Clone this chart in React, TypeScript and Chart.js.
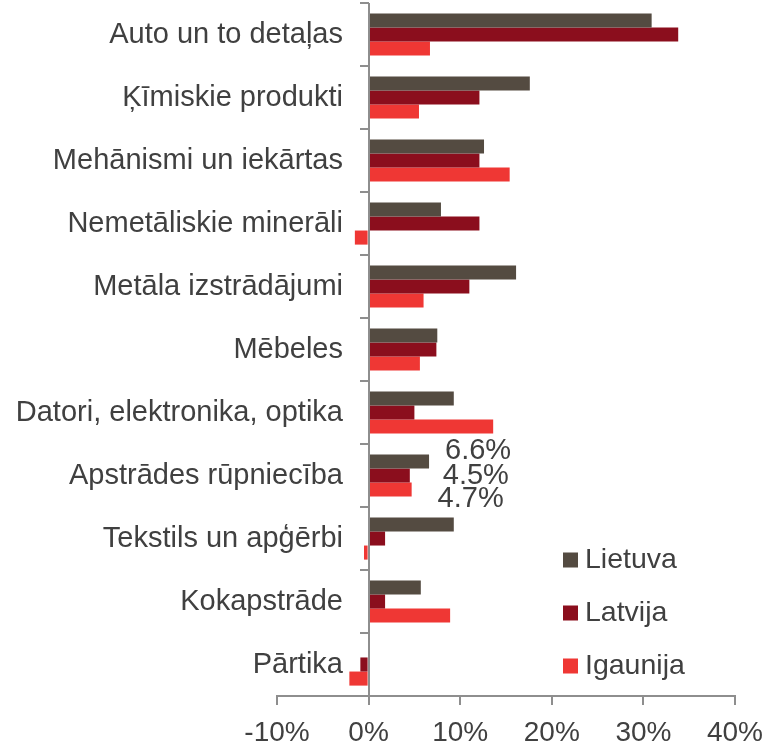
import React, { useEffect, useRef } from "react";
import { Chart, registerables } from "chart.js";

Chart.register(...registerables);

const categories = [
  "Auto un to detaļas",
  "Ķīmiskie produkti",
  "Mehānismi un iekārtas",
  "Nemetāliskie minerāli",
  "Metāla izstrādājumi",
  "Mēbeles",
  "Datori, elektronika, optika",
  "Apstrādes rūpniecība",
  "Tekstils un apģērbi",
  "Kokapstrāde",
  "Pārtika",
];
const lietuva = [30.9, 17.6, 12.6, 7.9, 16.1, 7.5, 9.3, 6.6, 9.3, 5.7, 0];
const latvija = [33.8, 12.1, 12.1, 12.1, 11.0, 7.4, 5.0, 4.5, 1.8, 1.8, -0.9];
const igaunija = [6.7, 5.5, 15.4, -1.5, 6.0, 5.6, 13.6, 4.7, -0.5, 8.9, -2.1];
const seriesNames = ["Lietuva", "Latvija", "Igaunija"];
const seriesColors = ["#544b41", "#8b0e1d", "#ef3734"];
const labelledCategory = "Apstrādes rūpniecība";
const xMin = -10;
const xMax = 40;
const xStep = 10;

const FONT = "'Liberation Sans', Arial, sans-serif";
const TEXT = "#404040";
const AXIS = "#8e8e8e";

const overlay = {
  id: "overlay",
  afterDraw(chart: any) {
    const { ctx, chartArea } = chart;
    const xs = chart.scales.x;
    const ys = chart.scales.y;
    const x0 = Math.round(xs.getPixelForValue(0));
    ctx.save();
    // vertical axis at 0
    ctx.strokeStyle = AXIS;
    ctx.lineWidth = 2;
    ctx.beginPath();
    ctx.moveTo(x0, chartArea.top);
    ctx.lineTo(x0, chartArea.bottom);
    for (let i = 0; i <= categories.length; i++) {
      const py = Math.round(ys.getPixelForValue(i - 0.5));
      ctx.moveTo(x0 - 9, py);
      ctx.lineTo(x0, py);
    }
    ctx.stroke();

    // category labels, right-aligned against the zero axis
    ctx.font = `29px ${FONT}`;
    ctx.fillStyle = TEXT;
    ctx.textAlign = "right";
    ctx.textBaseline = "middle";
    categories.forEach((c, i) => {
      ctx.fillText(c, x0 - 26, ys.getPixelForValue(i) + 0.5);
    });

    // data labels for one category
    const ci = categories.indexOf(labelledCategory);
    const dyOffsets = [-10, 0, 9];
    const dxOffsets = [49, 66, 59];
    ctx.textAlign = "center";
    chart.data.datasets.forEach((ds: any, di: number) => {
      const el = chart.getDatasetMeta(di).data[ci];
      const v = ds.data[ci];
      ctx.fillText(v.toFixed(1) + "%", el.x + dxOffsets[di], el.y + dyOffsets[di]);
    });

    // legend
    ctx.font = `28.5px ${FONT}`;
    const boxX = chartArea.right - 172;
    const firstY = chartArea.bottom - 136;
    const gap = 53;
    ctx.textAlign = "left";
    seriesNames.forEach((name, i) => {
      const cy = firstY + i * gap;
      ctx.fillStyle = seriesColors[i];
      ctx.fillRect(boxX, cy - 7.5, 15, 15);
      ctx.fillStyle = TEXT;
      ctx.fillText(name, boxX + 22, cy);
    });
    ctx.restore();
  },
};

export default function App() {
  const ref = useRef<HTMLCanvasElement | null>(null);
  useEffect(() => {
    if (!ref.current) return;
    const chart = new Chart(ref.current, {
      type: "bar",
      data: {
        labels: categories,
        datasets: [
          { label: seriesNames[0], data: lietuva, backgroundColor: seriesColors[0] },
          { label: seriesNames[1], data: latvija, backgroundColor: seriesColors[1] },
          { label: seriesNames[2], data: igaunija, backgroundColor: seriesColors[2] },
        ],
      },
      options: {
        indexAxis: "y",
        responsive: false,
        animation: false,
        devicePixelRatio: 1,
        datasets: { bar: { categoryPercentage: 0.67, barPercentage: 1 } },
        layout: { padding: { top: 3, right: 33, left: 0, bottom: 0 } },
        plugins: { legend: { display: false }, tooltip: { enabled: false } },
        scales: {
          x: {
            type: "linear",
            min: xMin,
            max: xMax,
            ticks: {
              stepSize: xStep,
              padding: 11,
              color: TEXT,
              font: { size: 28, family: FONT },
              callback: (v: any) => `${v}%`,
            },
            grid: {
              display: true,
              drawOnChartArea: false,
              drawTicks: true,
              tickLength: 9,
              color: AXIS,
              lineWidth: 2,
            },
            border: { display: true, color: AXIS, width: 2 },
            afterFit: (s: any) => {
              s.height = 49;
              s.paddingLeft = 0;
              s.paddingRight = 0;
            },
          },
          y: {
            type: "category",
            grid: { display: false },
            border: { display: false },
            ticks: { display: false },
            afterFit: (s: any) => {
              s.width = 277;
            },
          },
        },
      } as any,
      plugins: [overlay],
    });
    return () => chart.destroy();
  }, []);
  return (
    <div style={{ position: "absolute", left: 0, top: 0, width: 768, height: 745 }}>
      <canvas ref={ref} width={768} height={745} />
    </div>
  );
}
